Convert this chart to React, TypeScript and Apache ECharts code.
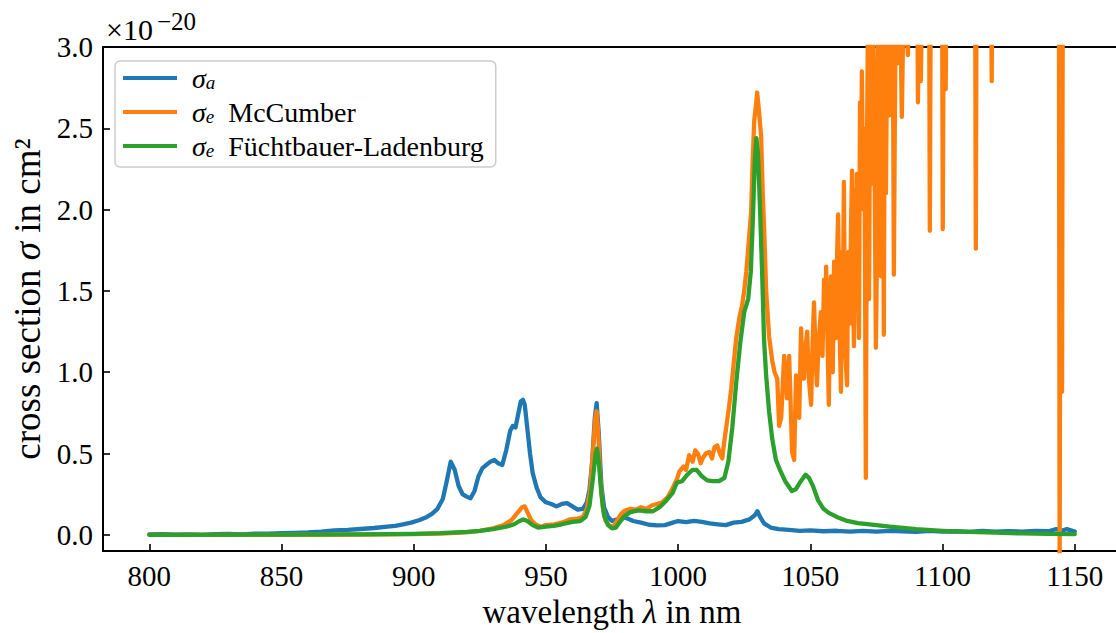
import React, { useEffect, useRef } from 'react';
import * as echarts from 'echarts';

const FONT = '"Liberation Serif", "DejaVu Serif", serif';

const xTicks = [800, 850, 900, 950, 1000, 1050, 1100, 1150];
const yTicks = [0, 0.5, 1.0, 1.5, 2.0, 2.5, 3.0];

// wavelength (nm), cross section (1e-20 cm^2)
const sigmaA: [number, number][] = [
  [800, 0.002], [805, 0.004], [810, 0.001], [815, 0.003], [820, 0.0], [825, 0.004], [830, 0.006],
  [835, 0.003], [840, 0.008], [845, 0.007], [850, 0.01], [855, 0.012], [860, 0.015], [865, 0.02],
  [870, 0.027], [875, 0.03], [880, 0.036], [885, 0.042], [890, 0.05], [893, 0.055], [896, 0.065],
  [899, 0.075], [902, 0.09], [905, 0.11], [907, 0.13], [909, 0.16], [911, 0.22], [912.5, 0.33],
  [914, 0.45], [915.5, 0.4], [917, 0.3], [918.5, 0.25], [920, 0.235], [921.5, 0.225], [923, 0.27],
  [924.5, 0.36], [926, 0.41], [927.5, 0.43], [929, 0.45], [930.5, 0.46], [932, 0.44], [933.5, 0.43],
  [935, 0.52], [936.5, 0.64], [937.5, 0.67], [938.5, 0.66], [939.5, 0.74], [940.5, 0.82], [941.3, 0.83],
  [942, 0.8], [943, 0.65], [944, 0.5], [945, 0.38], [946.5, 0.29], [948, 0.23], [950, 0.2], [952, 0.19],
  [954, 0.175], [956, 0.19], [958, 0.195], [960, 0.175], [962, 0.155], [964, 0.16], [965.5, 0.2],
  [966.5, 0.28], [967.5, 0.45], [968.5, 0.72], [969.2, 0.81], [970, 0.62], [971, 0.3], [972, 0.17],
  [973.5, 0.11], [975, 0.085], [977, 0.095], [979, 0.11], [981, 0.1], [983, 0.085], [986, 0.075],
  [989, 0.062], [992, 0.058], [995, 0.06], [998, 0.075], [1000, 0.085], [1003, 0.078], [1006, 0.086],
  [1009, 0.08], [1012, 0.07], [1015, 0.065], [1018, 0.06], [1021, 0.075], [1024, 0.08], [1027, 0.095],
  [1029, 0.12], [1030, 0.145], [1031, 0.11], [1032.5, 0.07], [1035, 0.045], [1038, 0.035], [1042, 0.03],
  [1046, 0.025], [1050, 0.028], [1055, 0.022], [1060, 0.025], [1065, 0.02], [1070, 0.024], [1075, 0.02],
  [1080, 0.025], [1085, 0.022], [1090, 0.018], [1095, 0.024], [1100, 0.02], [1105, 0.022], [1110, 0.018],
  [1115, 0.024], [1120, 0.02], [1125, 0.022], [1130, 0.02], [1135, 0.024], [1140, 0.022], [1143, 0.035],
  [1145, 0.025], [1147, 0.035], [1150, 0.02],
];

const sigmaMcCumber: [number, number][] = [
  [800, 0.0], [850, 0.0], [880, 0.002], [900, 0.004], [910, 0.008], [920, 0.015], [925, 0.025],
  [930, 0.04], [934, 0.06], [937, 0.09], [939, 0.13], [941, 0.17], [942, 0.175], [943, 0.14],
  [944.5, 0.09], [946, 0.065], [948, 0.05], [950, 0.06], [953, 0.065], [956, 0.075], [959, 0.095],
  [962, 0.1], [964, 0.11], [965.5, 0.16], [966.8, 0.28], [967.8, 0.52], [968.7, 0.72], [969.2, 0.76],
  [969.8, 0.62], [970.6, 0.35], [971.5, 0.17], [972.5, 0.09], [974, 0.055], [975.5, 0.05], [977, 0.09],
  [978.5, 0.13], [980, 0.15], [982, 0.16], [984, 0.155], [986, 0.17], [988, 0.16], [990, 0.18],
  [992, 0.19], [994, 0.2], [996, 0.23], [998, 0.29], [999.5, 0.34], [1000.5, 0.39], [1002, 0.42],
  [1003, 0.4], [1004.2, 0.49], [1005.5, 0.45], [1006.5, 0.52], [1007.5, 0.5], [1008.5, 0.44],
  [1009.3, 0.47], [1010.5, 0.5], [1011.8, 0.51], [1012.8, 0.47], [1013.8, 0.54], [1014.8, 0.55],
  [1015.8, 0.5], [1016.7, 0.47], [1017.5, 0.58], [1018.2, 0.66], [1019.2, 0.78], [1020.1, 0.9],
  [1021, 1.05], [1022, 1.21], [1023.1, 1.33], [1024.2, 1.41], [1025, 1.5], [1025.8, 1.62],
  [1026.9, 1.84], [1027.6, 1.98], [1028.2, 2.3], [1028.8, 2.55], [1029.5, 2.65], [1029.9, 2.72],
  [1030.5, 2.62], [1031.4, 2.45], [1032, 2.1], [1032.5, 1.9], [1033.3, 1.5], [1034.4, 1.22],
  [1035.6, 1.07], [1036.5, 1.0], [1037.5, 0.96], [1038.2, 0.67], [1039, 0.72], [1040.1, 1.1],
  [1041.2, 0.84], [1042, 1.1], [1043.1, 0.51], [1043.9, 0.46], [1044.6, 0.98], [1045.2, 0.8],
  [1045.8, 0.72], [1046.5, 1.27], [1047, 1.05], [1047.6, 0.96], [1048.2, 1.15], [1048.8, 1.25],
  [1049.5, 0.95], [1050.3, 0.8], [1050.9, 1.2], [1051.4, 1.43], [1052, 1.1], [1052.5, 0.92],
  [1053.2, 1.2], [1054, 1.37], [1054.6, 1.1], [1055.2, 1.57], [1055.6, 1.3], [1056, 1.65],
  [1056.5, 1.2], [1057, 0.8], [1057.4, 1.3], [1057.8, 1.59], [1058.2, 1.2], [1058.5, 1.0],
  [1059, 1.68], [1059.4, 1.4], [1059.7, 1.21], [1060.1, 1.7], [1060.5, 1.97], [1061, 1.3],
  [1061.6, 0.88], [1062, 1.74], [1062.3, 1.4], [1062.7, 2.17], [1063, 1.5], [1063.3, 1.1],
  [1063.9, 0.92], [1064.2, 1.5], [1064.5, 1.74], [1065, 1.3], [1065.4, 1.9], [1065.8, 2.24],
  [1066.1, 1.6], [1066.5, 1.16], [1066.9, 2.12], [1067.2, 1.5], [1067.6, 2.22], [1068, 1.6],
  [1068.4, 1.21], [1068.8, 2.66], [1069.1, 2.0], [1069.5, 2.85], [1069.9, 2.2], [1070.2, 2.5],
  [1070.6, 2.03], [1071, 0.35], [1071.4, 2.29], [1071.8, 3.2], [1072.2, 1.45], [1072.6, 2.6],
  [1072.9, 3.6], [1073.3, 2.16], [1073.7, 3.4], [1074.2, 2.5], [1074.8, 1.15], [1075.2, 1.7],
  [1075.8, 3.5], [1076.2, 2.4], [1076.7, 1.59], [1077.3, 3.4], [1077.8, 1.23], [1078.2, 3.2],
  [1078.6, 2.1], [1079.3, 3.5], [1080, 2.58], [1080.6, 3.3], [1081.1, 3.5], [1081.6, 1.6],
  [1082.3, 3.4], [1083.1, 2.9], [1083.8, 3.5], [1084.6, 2.57], [1085.5, 3.5], [1086.9, 2.95],
  [1088, 3.6], [1090.4, 3.6], [1090.7, 2.66], [1091.2, 3.5], [1091.8, 2.79], [1092.5, 3.6],
  [1094.9, 3.6], [1095.2, 1.87], [1095.6, 3.6], [1099.8, 3.6], [1100.1, 1.88], [1100.5, 3.5],
  [1100.9, 3.6], [1101.2, 2.74], [1101.6, 3.6], [1112.3, 3.6], [1112.6, 1.76], [1112.9, 3.6],
  [1118.3, 3.6], [1118.6, 2.79], [1118.9, 3.6], [1144.0, 3.6], [1144.3, -0.3], [1144.7, 3.6],
  [1145.0, 3.6], [1145.2, 0.88], [1145.5, 3.6], [1150, 3.6],
];

const sigmaFL: [number, number][] = [
  [800, 0.0], [850, 0.001], [880, 0.003], [900, 0.006], [910, 0.01], [920, 0.018], [925, 0.025],
  [930, 0.035], [935, 0.05], [938, 0.065], [940, 0.085], [941.5, 0.095], [943, 0.085], [945, 0.06],
  [947, 0.045], [950, 0.05], [953, 0.055], [956, 0.065], [960, 0.08], [963, 0.085], [965, 0.11],
  [966.5, 0.18], [967.8, 0.35], [968.8, 0.5], [969.3, 0.53], [970, 0.45], [971, 0.25], [972, 0.12],
  [973.5, 0.06], [975, 0.04], [976.5, 0.045], [978, 0.08], [980, 0.12], [982, 0.14], [985, 0.15],
  [988, 0.145], [990.5, 0.145], [993, 0.17], [995.5, 0.21], [998, 0.26], [999.5, 0.32], [1001.5, 0.33],
  [1003.5, 0.37], [1005.5, 0.4], [1007, 0.4], [1009, 0.36], [1011, 0.335], [1013, 0.33], [1015.5, 0.33],
  [1017.5, 0.35], [1019, 0.45], [1020.5, 0.66], [1022, 0.94], [1023.5, 1.18], [1025, 1.37],
  [1026.5, 1.45], [1027.5, 1.62], [1028.3, 1.95], [1029, 2.3], [1029.6, 2.44], [1030.2, 2.35],
  [1031, 2.0], [1031.8, 1.6], [1032.5, 1.2], [1033.3, 0.98], [1034.4, 0.76], [1035.6, 0.59],
  [1037, 0.46], [1038.5, 0.4], [1040.5, 0.33], [1043, 0.27], [1044.5, 0.28], [1046, 0.32],
  [1048.2, 0.37], [1049.5, 0.35], [1051, 0.3], [1053, 0.21], [1055, 0.16], [1057, 0.135], [1060, 0.11],
  [1063.5, 0.088], [1068, 0.072], [1075, 0.06], [1080, 0.05], [1090, 0.035], [1100, 0.025],
  [1110, 0.018], [1120, 0.013], [1130, 0.009], [1140, 0.006], [1150, 0.004],
];

const NAMES = ['σa', 'σe McCumber', 'σe Füchtbauer-Ladenburg'];
const LEGEND_RICH: Record<string, string> = {
  'σa': '{p| }{s|σ}{b|a}',
  'σe McCumber': '{p| }{s|σ}{b|e}{t|  McCumber}',
  'σe Füchtbauer-Ladenburg': '{p| }{s|σ}{b|e}{t|  Füchtbauer-Ladenburg}',
};

const LW = 4.3;

export default function App() {
  const ref = useRef<HTMLDivElement>(null);
  useEffect(() => {
    const chart = echarts.init(ref.current!, null, { renderer: 'svg' });
    chart.setOption({
      animation: false,
      backgroundColor: '#ffffff',
      textStyle: { fontFamily: FONT },
      grid: {
        left: 103, top: 47, right: 19, bottom: 80,
        show: true, borderColor: '#000', borderWidth: 2, backgroundColor: 'transparent',
      },
      legend: {
        orient: 'vertical',
        left: 115, top: 61,
        data: NAMES,
        icon: 'rect',
        itemWidth: 54, itemHeight: 4,
        itemGap: 6,
        padding: [3, 12, 7, 8],
        backgroundColor: 'rgba(255,255,255,0.85)',
        borderColor: '#cccccc', borderWidth: 1.5, borderRadius: 5,
        formatter: (name: string) => LEGEND_RICH[name] || name,
        textStyle: {
          fontFamily: FONT, fontSize: 28, color: '#000',
          rich: {
            p: { width: 10, fontSize: 28, lineHeight: 28, fontFamily: FONT },
            s: { fontStyle: 'italic', fontSize: 28, lineHeight: 28, fontFamily: FONT, color: '#000' },
            b: { fontStyle: 'italic', fontSize: 19, lineHeight: 14, verticalAlign: 'bottom', fontFamily: FONT, color: '#000' },
            t: { fontSize: 28, lineHeight: 28, fontFamily: FONT, color: '#000' },
          },
        },
      },
      xAxis: {
        type: 'value',
        min: 782.5, max: 1167.5,
        name: '{t|wavelength }{i|λ}{t| in nm}',
        nameLocation: 'middle',
        nameGap: 40,
        nameTextStyle: {
          rich: {
            t: { fontSize: 33, fontFamily: FONT, color: '#000' },
            i: { fontSize: 33, fontFamily: FONT, fontStyle: 'italic', color: '#000' },
          },
        },
        axisLine: { show: true, onZero: false, lineStyle: { color: '#000', width: 2 } },
        axisTick: { show: true, inside: true, length: 7, lineStyle: { color: '#000', width: 1.6 }, customValues: xTicks },
        axisLabel: { color: '#000', fontSize: 29, fontFamily: FONT, margin: 10, customValues: xTicks, formatter: (v: number) => String(v) },
        splitLine: { show: false },
      },
      yAxis: {
        type: 'value',
        min: -0.1, max: 3.0,
        name: '{t|cross section }{i|σ}{t| in cm²}',
        nameLocation: 'middle',
        nameGap: 36,
        nameTextStyle: {
          rich: {
            t: { fontSize: 37, fontFamily: FONT, color: '#000' },
            i: { fontSize: 37, fontFamily: FONT, fontStyle: 'italic', color: '#000' },
          },
        },
        axisLine: { show: true, onZero: false, lineStyle: { color: '#000', width: 2 } },
        axisTick: { show: true, inside: true, length: 7, lineStyle: { color: '#000', width: 1.6 }, customValues: yTicks },
        axisLabel: { color: '#000', fontSize: 29, fontFamily: FONT, margin: 10, customValues: yTicks, formatter: (v: number) => v.toFixed(1) },
        splitLine: { show: false },
      },
      graphic: [
        { type: 'text', left: 106, top: 14, style: { text: '×10', fontSize: 30, fontFamily: FONT, fill: '#000' } },
        { type: 'text', left: 157, top: 9, style: { text: '−20', fontSize: 25, fontFamily: FONT, fill: '#000' } },
      ],
      series: [
        { name: NAMES[0], type: 'line', data: sigmaA, showSymbol: false, symbol: 'none', z: 2,
          color: '#1f77b4', lineStyle: { color: '#1f77b4', width: LW, join: 'round', cap: 'round' } },
        { name: NAMES[1], type: 'line', data: sigmaMcCumber, showSymbol: false, symbol: 'none', z: 3,
          color: '#ff7f0e', lineStyle: { color: '#ff7f0e', width: LW, join: 'round', cap: 'round' } },
        { name: NAMES[2], type: 'line', data: sigmaFL, showSymbol: false, symbol: 'none', z: 4,
          color: '#2ca02c', lineStyle: { color: '#2ca02c', width: LW, join: 'round', cap: 'round' } },
      ],
    });
    return () => chart.dispose();
  }, []);
  return (
    <div style={{ position: 'fixed', left: 0, top: 0, width: 1116, height: 633, overflow: 'hidden', background: '#fff' }}>
      <div ref={ref} style={{ width: 1140, height: 633 }} />
    </div>
  );
}
